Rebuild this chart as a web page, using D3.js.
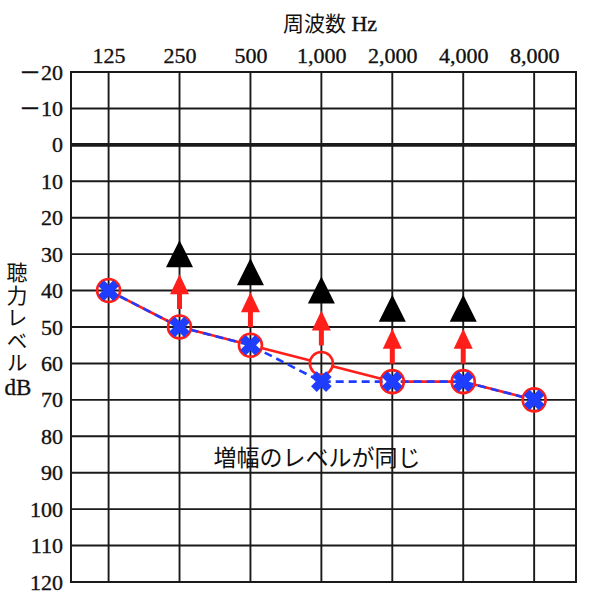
<!DOCTYPE html>
<html><head><meta charset="utf-8">
<script src="https://cdn.jsdelivr.net/npm/d3@7"></script>
<style>
html,body{margin:0;padding:0;background:#fff;}
svg{display:block;}
</style>
</head><body>
<svg id="chart" width="600" height="601"></svg>
<script>
// ---- data ----
const freqs = [125, 250, 500, 1000, 2000, 4000, 8000];
const freqLabels = ["125", "250", "500", "1,000", "2,000", "4,000", "8,000"];
const dbTicks = [-20, -10, 0, 10, 20, 30, 40, 50, 60, 70, 80, 90, 100, 110, 120];
const dbLabels = ["－20", "－10", "0", "10", "20", "30", "40", "50", "60", "70", "80", "90", "100", "110", "120"];
const circleValues = [40, 50, 55, 60, 65, 65, 70];   // red ○ (solid line)
const crossValues = [40, 50, 55, 65, 65, 65, 70];    // blue × (dashed line)
const aidedFreqs = [250, 500, 1000, 2000, 4000];
const aidedValues = [30, 35, 40, 45, 45];            // black ▲
const titleCJK = "周波数";
const titleUnit = "Hz";
const yLabelText = "聴力レベル";
const yLabelUnit = "dB";
const noteText = "増幅のレベルが同じ";

// ---- layout ----
const svg = d3.select("#chart");
const pL = 71, pR = 576, pT = 72, pB = 582;
const x = d3.scaleLog().base(2)
  .domain([125 / Math.pow(2, 0.53), 8000 * Math.pow(2, 0.59)])
  .range([pL, pR]);
const y = d3.scaleLinear().domain([-20, 120]).range([pT, pB]);

const RED = "#ff1f1a", BLUE = "#1f3dff", GRID = "#1a1a1a";
const serif = "'Liberation Serif','DejaVu Serif','Noto Sans CJK JP',serif";
const cjk = "'Noto Sans CJK JP','Noto Sans',sans-serif";

// grid
const g = svg.append("g");
g.selectAll("line.h").data(dbTicks).enter().append("line")
  .attr("x1", pL).attr("x2", pR)
  .attr("y1", d => y(d)).attr("y2", d => y(d))
  .attr("stroke", GRID).attr("stroke-width", d => d === 0 ? 3.6 : 1.9);
g.selectAll("line.v").data(freqs).enter().append("line")
  .attr("x1", d => x(d)).attr("x2", d => x(d))
  .attr("y1", pT).attr("y2", pB)
  .attr("stroke", GRID).attr("stroke-width", 1.9);
g.append("rect").attr("x", pL).attr("y", pT)
  .attr("width", pR - pL).attr("height", pB - pT)
  .attr("fill", "none").attr("stroke", GRID).attr("stroke-width", 2);

// axes
const topAxis = d3.axisTop(x).tickValues(freqs)
  .tickFormat((d, i) => freqLabels[i]).tickSize(0).tickPadding(0);
const ta = svg.append("g").attr("transform", `translate(0,${pT - 9})`).call(topAxis);
ta.select(".domain").remove();
ta.selectAll("text").attr("font-family", serif).attr("font-size", 22).attr("fill", "#111")
  .attr("stroke", "#111").attr("stroke-width", 0.35);

const leftAxis = d3.axisLeft(y).tickValues(dbTicks)
  .tickFormat((d, i) => dbLabels[i]).tickSize(0).tickPadding(0);
const la = svg.append("g").attr("transform", `translate(${pL - 8},0)`).call(leftAxis);
la.select(".domain").remove();
la.selectAll("text").attr("font-family", serif).attr("font-size", 22).attr("fill", "#111")
  .attr("stroke", "#111").attr("stroke-width", 0.35);

// title
const t = svg.append("text").attr("x", 330).attr("y", 31).attr("text-anchor", "middle")
  .attr("fill", "#111");
t.append("tspan").attr("font-family", cjk).attr("font-size", 21).text(titleCJK);
t.append("tspan").attr("font-family", serif).attr("font-size", 22)
  .attr("stroke", "#111").attr("stroke-width", 0.35).text(" " + titleUnit);

// y label (vertical)
svg.append("text").attr("x", 17).attr("y", 262)
  .attr("writing-mode", "vertical-rl")
  .style("text-orientation", "upright")
  .attr("letter-spacing", 1.5)
  .attr("font-family", cjk).attr("font-size", 21).attr("fill", "#111")
  .text(yLabelText);
svg.append("text").attr("x", 18).attr("y", 395).attr("text-anchor", "middle")
  .attr("font-family", serif).attr("font-size", 23).attr("fill", "#111")
  .attr("stroke", "#111").attr("stroke-width", 0.35).text(yLabelUnit);

// note
svg.append("text").attr("x", 317).attr("y", 466).attr("text-anchor", "middle")
  .attr("font-family", cjk).attr("font-size", 23).attr("fill", "#111").text(noteText);

// ---- series ----
const R = 11.5;
const circlePts = freqs.map((f, i) => [x(f), y(circleValues[i])]);
const crossPts = freqs.map((f, i) => [x(f), y(crossValues[i])]);

// red solid line, segments trimmed to circle edges
const segs = [];
for (let i = 0; i < circlePts.length - 1; i++) {
  const [x1, y1] = circlePts[i], [x2, y2] = circlePts[i + 1];
  const len = Math.hypot(x2 - x1, y2 - y1), ux = (x2 - x1) / len, uy = (y2 - y1) / len;
  segs.push([[x1 + ux * R, y1 + uy * R], [x2 - ux * R, y2 - uy * R]]);
}
svg.selectAll("line.red").data(segs).enter().append("line")
  .attr("x1", d => d[0][0]).attr("y1", d => d[0][1])
  .attr("x2", d => d[1][0]).attr("y2", d => d[1][1])
  .attr("stroke", RED).attr("stroke-width", 2.6);

// blue dashed line
svg.append("path").attr("d", d3.line()(crossPts))
  .attr("fill", "none").attr("stroke", BLUE).attr("stroke-width", 2.6)
  .attr("stroke-dasharray", "8,5");

// red circles
svg.selectAll("circle.o").data(circlePts).enter().append("circle")
  .attr("cx", d => d[0]).attr("cy", d => d[1]).attr("r", R)
  .attr("fill", "none").attr("stroke", RED).attr("stroke-width", 2.6);

// blue crosses
const a = 7.5;
const xs = svg.selectAll("g.x").data(crossPts).enter().append("g")
  .attr("transform", d => `translate(${d[0]},${d[1]})`);
xs.append("line").attr("x1", -a).attr("y1", -a).attr("x2", a).attr("y2", a)
  .attr("stroke", BLUE).attr("stroke-width", 8);
xs.append("line").attr("x1", -a).attr("y1", a).attr("x2", a).attr("y2", -a)
  .attr("stroke", BLUE).attr("stroke-width", 8);

// red arrows (from ○ up toward ▲)
const arrows = aidedFreqs.map((f, i) => {
  const ci = freqs.indexOf(f);
  return { x: x(f), y0: y(circleValues[ci]) - 18, y1: y(aidedValues[i]) + 20 };
});
const ag = svg.selectAll("g.arrow").data(arrows).enter().append("g");
ag.append("line").attr("x1", d => d.x).attr("x2", d => d.x)
  .attr("y1", d => d.y0).attr("y2", d => d.y1 + 18)
  .attr("stroke", RED).attr("stroke-width", 5);
ag.append("path").attr("d", d => `M${d.x},${d.y1}L${d.x + 9.5},${d.y1 + 20}L${d.x - 9.5},${d.y1 + 20}Z`)
  .attr("fill", RED);

// black triangles
svg.selectAll("path.tri").data(aidedFreqs).enter().append("path")
  .attr("d", (f, i) => {
    const cx = x(f), cy = y(aidedValues[i]);
    return `M${cx},${cy - 14}L${cx + 13.5},${cy + 13}L${cx - 13.5},${cy + 13}Z`;
  })
  .attr("fill", "#000");
</script>
</body></html>
